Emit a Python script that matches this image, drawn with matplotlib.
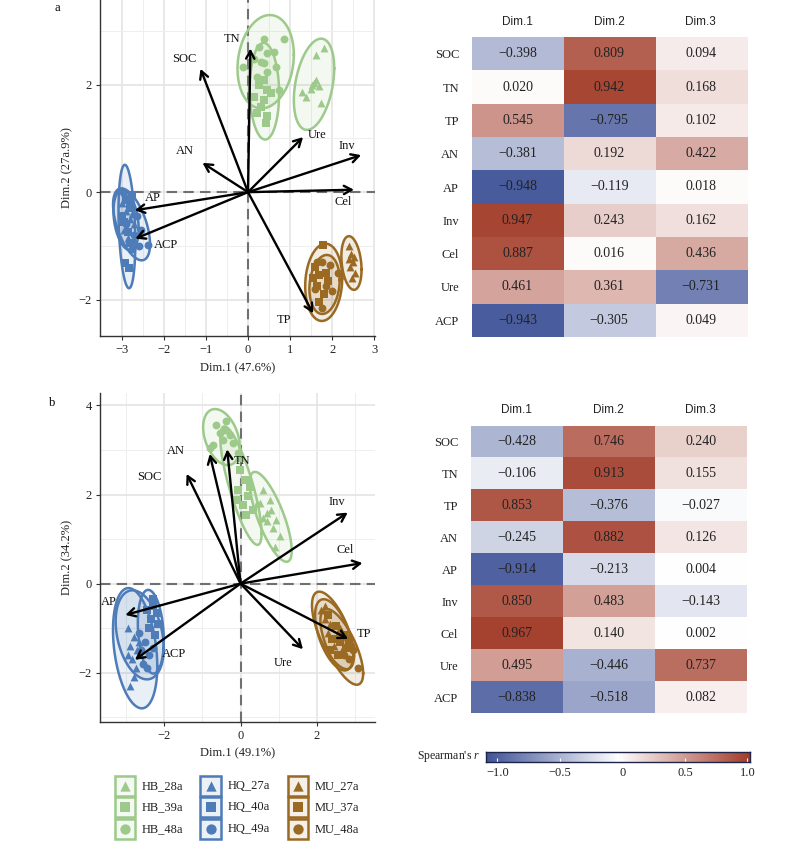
import numpy as np
import matplotlib
matplotlib.use('Agg')
import matplotlib.pyplot as plt
from matplotlib.colors import LinearSegmentedColormap

plt.rcParams['font.family'] = ['Liberation Serif', 'DejaVu Serif']
plt.rcParams['mathtext.fontset'] = 'custom'
plt.rcParams['mathtext.rm'] = 'Liberation Serif'
plt.rcParams['mathtext.it'] = 'Liberation Serif:italic'
plt.rcParams['axes.unicode_minus'] = True

# ---------------- data ----------------
variables = ['SOC', 'TN', 'TP', 'AN', 'AP', 'Inv', 'Cel', 'Ure', 'ACP']
dims = ['Dim.1', 'Dim.2', 'Dim.3']

corr_a = [[-0.398, 0.809, 0.094],
          [0.020, 0.942, 0.168],
          [0.545, -0.795, 0.102],
          [-0.381, 0.192, 0.422],
          [-0.948, -0.119, 0.018],
          [0.947, 0.243, 0.162],
          [0.887, 0.016, 0.436],
          [0.461, 0.361, -0.731],
          [-0.943, -0.305, 0.049]]

corr_b = [[-0.428, 0.746, 0.240],
          [-0.106, 0.913, 0.155],
          [0.853, -0.376, -0.027],
          [-0.245, 0.882, 0.126],
          [-0.914, -0.213, 0.004],
          [0.850, 0.483, -0.143],
          [0.967, 0.140, 0.002],
          [0.495, -0.446, 0.737],
          [-0.838, -0.518, 0.082]]

arrow_scale_a = 2.84
arrow_scale_b = 3.30

groups = ['HB_28a', 'HB_39a', 'HB_48a', 'HQ_27a', 'HQ_40a', 'HQ_49a',
          'MU_27a', 'MU_37a', 'MU_48a']

# sample scores (Dim.1, Dim.2)
pts_a = {
    'HB_28a': [(1.81, 2.68), (1.61, 2.55), (1.57, 2.03), (1.69, 1.97), (1.49, 1.93),
               (1.29, 1.87), (1.37, 1.78), (1.73, 1.66), (1.61, 2.09), (1.53, 2.00)],
    'HB_39a': [(0.26, 2.00), (0.46, 1.90), (0.38, 1.72), (0.30, 1.59), (0.46, 1.41),
               (0.42, 1.28), (0.22, 1.47), (0.38, 2.09), (0.54, 1.84), (0.14, 1.78)],
    'HB_48a': [(0.38, 2.86), (0.86, 2.86), (0.26, 2.71), (0.46, 2.59), (0.30, 2.43),
               (0.38, 2.40), (0.66, 2.34), (0.14, 2.49), (-0.13, 2.34), (0.22, 2.15),
               (0.46, 2.24), (0.74, 1.90), (0.62, 2.62)],
    'HQ_27a': [(-2.95, 0.00), (-2.85, -0.10), (-2.75, -0.25), (-2.90, -0.35), (-2.80, -0.50),
               (-2.70, -0.60), (-2.95, -0.70), (-2.85, -0.85), (-2.75, -0.40), (-3.00, -0.20)],
    'HQ_40a': [(-2.90, -0.15), (-2.80, -0.30), (-2.95, -0.55), (-2.85, -0.75), (-2.80, -0.95),
               (-2.92, -1.32), (-2.84, -1.41), (-2.75, -0.05), (-3.00, -0.45)],
    'HQ_49a': [(-3.00, 0.02), (-2.80, -0.20), (-2.65, -0.45), (-2.70, -0.80), (-2.55, -0.70),
               (-2.60, -1.00), (-2.37, -0.98), (-2.90, -0.60), (-2.75, -1.05)],
    'MU_27a': [(2.40, -1.00), (2.45, -1.15), (2.50, -1.30), (2.42, -1.40), (2.55, -1.50),
               (2.48, -1.60), (2.40, -1.25), (2.52, -1.20)],
    'MU_37a': [(1.79, -0.98), (1.60, -1.40), (1.70, -1.55), (1.85, -1.50), (1.65, -1.75),
               (1.80, -1.90), (1.70, -2.05), (1.90, -1.65), (1.55, -1.60)],
    'MU_48a': [(2.14, -1.51), (1.75, -1.30), (1.95, -1.35), (1.60, -1.80), (1.85, -1.75),
               (1.75, -2.15), (2.00, -1.85), (1.65, -1.30)],
}

pts_b = {
    'HB_28a': [(0.59, 2.10), (0.77, 1.88), (0.51, 1.81), (0.68, 1.58), (0.94, 1.43),
               (0.81, 1.66), (0.59, 1.47), (1.03, 1.06), (0.90, 0.83), (0.42, 1.81),
               (0.70, 1.40), (0.85, 1.25)],
    'HB_39a': [(-0.02, 2.55), (0.11, 2.33), (-0.06, 2.10), (0.20, 1.96), (0.07, 1.77),
               (0.33, 1.66), (-0.10, 1.88), (0.24, 2.18), (-0.02, 2.82), (0.15, 1.55)],
    'HB_48a': [(-0.63, 3.57), (-0.37, 3.66), (-0.54, 3.38), (-0.28, 3.34), (-0.72, 3.12),
               (-0.19, 3.15), (-0.45, 3.23), (-0.06, 2.93), (-0.80, 3.04), (-0.40, 3.45)],
    'HQ_27a': [(-2.95, -1.00), (-2.80, -1.20), (-2.90, -1.40), (-2.70, -1.50), (-2.85, -1.70),
               (-2.75, -1.90), (-2.95, -1.60), (-2.80, -2.10), (-2.90, -2.30), (-2.65, -1.30)],
    'HQ_40a': [(-2.30, -0.50), (-2.20, -0.65), (-2.35, -0.80), (-2.15, -0.90), (-2.40, -1.00),
               (-2.25, -1.15), (-2.30, -0.35), (-2.45, -0.60)],
    'HQ_49a': [(-2.50, -1.30), (-2.60, -1.50), (-2.40, -1.60), (-2.55, -1.80), (-2.30, -1.45),
               (-2.65, -1.10), (-2.45, -1.90)],
    'MU_27a': [(2.10, -0.60), (2.20, -0.80), (2.35, -0.90), (2.30, -1.10), (2.50, -1.20),
               (2.45, -1.40), (2.65, -1.50), (2.20, -0.50), (2.60, -1.00)],
    'MU_37a': [(2.30, -0.70), (2.50, -0.95), (2.40, -1.25), (2.60, -1.30), (2.75, -1.45),
               (2.55, -1.60), (2.70, -1.15), (2.35, -1.50)],
    'MU_48a': [(2.60, -1.10), (2.80, -1.30), (2.90, -1.40), (2.70, -1.60), (2.85, -1.70),
               (3.08, -1.90), (2.75, -1.20), (2.95, -1.50)],
}

# confidence ellipses: centre x, centre y, half-extent x, half-extent y, correlation
ell_a = {
    'HB_28a': (1.57, 2.01, 0.48, 0.85, 0.35),
    'HB_39a': (0.39, 1.88, 0.35, 0.90, -0.05),
    'HB_48a': (0.42, 2.43, 0.67, 0.87, 0.15),
    'HQ_27a': (-2.90, -0.52, 0.30, 0.56, -0.30),
    'HQ_40a': (-2.88, -0.64, 0.20, 1.15, -0.25),
    'HQ_49a': (-2.77, -0.60, 0.44, 0.67, -0.55),
    'MU_27a': (2.46, -1.32, 0.24, 0.50, -0.25),
    'MU_37a': (1.80, -1.68, 0.44, 0.72, 0.10),
    'MU_48a': (1.82, -1.72, 0.36, 0.55, 0.15),
}
ell_b = {
    'HB_28a': (0.79, 1.50, 0.55, 1.01, -0.75),
    'HB_39a': (0.01, 2.20, 0.54, 1.33, -0.80),
    'HB_48a': (-0.50, 3.29, 0.48, 0.63, -0.35),
    'HQ_27a': (-2.76, -1.45, 0.58, 1.35, -0.30),
    'HQ_40a': (-2.35, -1.08, 0.34, 0.94, -0.20),
    'HQ_49a': (-2.64, -1.15, 0.63, 1.00, -0.30),
    'MU_27a': (2.42, -1.05, 0.55, 0.87, -0.65),
    'MU_37a': (2.45, -1.15, 0.50, 0.80, -0.55),
    'MU_48a': (2.65, -1.42, 0.56, 0.85, -0.70),
}

# arrow label positions
lab_a = {'SOC': (-1.52, 2.49), 'TN': (-0.39, 2.86), 'TP': (0.86, -2.39), 'AN': (-1.50, 0.76),
         'AP': (-2.27, -0.11), 'Inv': (2.34, 0.86), 'Cel': (2.26, -0.19), 'Ure': (1.65, 1.07),
         'ACP': (-1.94, -0.98)}
lab_b = {'SOC': (-2.40, 2.40), 'TN': (0.03, 2.76), 'TP': (3.23, -1.13), 'AN': (-1.69, 2.97),
         'AP': (-3.46, -0.42), 'Inv': (2.53, 1.84), 'Cel': (2.73, 0.76), 'Ure': (1.12, -1.79),
         'ACP': (-1.74, -1.58)}

site_color = {'HB': '#9dca8b', 'HQ': '#4d7cb9', 'MU': '#9b6a22'}
age_marker = {'28a': '^', '39a': 's', '48a': 'o', '27a': '^', '40a': 's', '49a': 'o', '37a': 's'}

cmap = LinearSegmentedColormap.from_list('spear', ['#3f5398', '#ffffff', '#a33c29'])

# ---------------- figure ----------------
W, H = 800, 841
fig = plt.figure(figsize=(W / 100, H / 100), dpi=100)


def frect(l, t, r, b):
    return [l / W, 1 - b / H, (r - l) / W, (b - t) / H]


def ellipse_xy(cx, cy, hx, hy, rho, n=240):
    t = np.linspace(0, 2 * np.pi, n)
    x = cx + hx * np.cos(t)
    y = cy + hy * (rho * np.cos(t) + np.sqrt(1 - rho ** 2) * np.sin(t))
    return x, y


def minus(s):
    return s.replace('-', '\u2212')


def biplot(ax, pts, ells, corr, scale, labs, xlim, ylim, xmaj, xmin, ymaj, ymin, xlabel, ylabel):
    ax.set_xlim(*xlim)
    ax.set_ylim(*ylim)
    ax.set_xticks(xmaj)
    ax.set_xticklabels([minus(f"{v:g}") for v in xmaj])
    ax.set_yticks(ymaj)
    ax.set_yticklabels([minus(f"{v:g}") for v in ymaj])
    ax.set_xticks(xmin, minor=True)
    ax.set_yticks(ymin, minor=True)
    ax.grid(which='major', color='#e4e4e4', lw=1.2)
    ax.grid(which='minor', color='#eeeeee', lw=0.7)
    ax.tick_params(which='minor', length=0)
    ax.tick_params(which='major', length=3, color='#333333', labelsize=9, labelcolor='#222222', pad=3)
    ax.set_axisbelow(True)
    for s in ('top', 'right'):
        ax.spines[s].set_visible(False)
    for s in ('left', 'bottom'):
        ax.spines[s].set_color('#333333')
        ax.spines[s].set_linewidth(1.0)
    ax.axhline(0, color='#707070', lw=1.5, dashes=(5, 3), zorder=1)
    ax.axvline(0, color='#707070', lw=1.5, dashes=(5, 3), zorder=1)
    for g in groups:
        site, age = g.split('_')
        col = site_color[site]
        ex, ey = ellipse_xy(*ells[g])
        ax.fill(ex, ey, color=col, alpha=0.12, lw=0, zorder=2)
        ax.plot(ex, ey, color=col, lw=1.8, zorder=3)
        p = np.array(pts[g])
        ax.scatter(p[:, 0], p[:, 1], marker=age_marker[age], s=32, color=col, lw=0, zorder=4)
    for v, c in zip(variables, corr):
        ax.annotate('', xy=(scale * c[0], scale * c[1]), xytext=(0, 0),
                    arrowprops=dict(arrowstyle='->,head_length=0.55,head_width=0.3',
                                    color='black', lw=1.7, shrinkA=0, shrinkB=0), zorder=5)
        lx, ly = labs[v]
        ax.text(lx, ly, v, fontsize=9, ha='center', va='center', color='#111111', zorder=6)
    ax.set_xlabel(xlabel, fontsize=9, labelpad=4, color='#222222')
    ax.set_ylabel(ylabel, fontsize=9, labelpad=4, color='#222222')


ax_a = fig.add_axes(frect(100, 0, 375, 336))
biplot(ax_a, pts_a, ell_a, corr_a, arrow_scale_a, lab_a, (-3.52, 3.02), (-2.68, 3.58),
       [-3, -2, -1, 0, 1, 2, 3], [-2.5, -1.5, -0.5, 0.5, 1.5, 2.5],
       [-2, 0, 2], [-1, 1, 3], 'Dim.1 (47.6%)', 'Dim.2 (27a.9%)')

ax_b = fig.add_axes(frect(100, 393, 375, 721.7))
biplot(ax_b, pts_b, ell_b, corr_b, arrow_scale_b, lab_b, (-3.68, 3.52), (-3.1, 4.28),
       [-2, 0, 2], [-3, -1, 1, 3],
       [-2, 0, 2, 4], [-3, -1, 1, 3], 'Dim.1 (49.1%)', 'Dim.2 (34.2%)')

fig.text(57 / W, 1 - 8 / H, 'a', fontsize=9, ha='center', va='center')
fig.text(52 / W, 1 - 403 / H, 'b', fontsize=9, ha='center', va='center')


def heat(ax, corr):
    arr = np.array(corr)
    ax.imshow(arr, cmap=cmap, vmin=-1, vmax=1, aspect='auto', interpolation='nearest')
    for i in range(arr.shape[0]):
        for j in range(arr.shape[1]):
            ax.text(j, i, minus(f"{arr[i, j]:.3f}"), ha='center', va='center',
                    fontsize=10, color='#222222')
    ax.set_xticks(range(len(dims)))
    ax.set_xticklabels(dims, fontfamily=['Liberation Sans', 'DejaVu Sans'], fontsize=8.5, color='#222222')
    ax.xaxis.tick_top()
    ax.set_yticks(range(len(variables)))
    ax.set_yticklabels(variables, fontsize=9, color='#222222')
    ax.tick_params(axis='x', length=0, pad=7)
    ax.tick_params(axis='y', length=0, pad=9)
    for s in ax.spines.values():
        s.set_visible(False)


hm_a = fig.add_axes(frect(471.7, 37.3, 746.7, 336.7))
heat(hm_a, corr_a)
hm_b = fig.add_axes(frect(470.7, 426, 746.7, 713.3))
heat(hm_b, corr_b)

# colour bar
cb_ax = fig.add_axes(frect(486, 751.7, 750, 761.7))
grad = np.linspace(-1, 1, 256).reshape(1, -1)
cb_ax.imshow(grad, cmap=cmap, vmin=-1, vmax=1, aspect='auto', extent=(-1.09, 1.02, 0, 1))
cb_ax.set_xlim(-1.09, 1.02)
cb_ax.set_ylim(0, 1)
cb_ticks = [-1.0, -0.5, 0, 0.5, 1.0]
cb_ax.set_xticks(cb_ticks)
cb_ax.set_xticklabels(['\u22121.0', '\u22120.5', '0', '0.5', '1.0'])
cb_ax.set_yticks([])
cb_ax.tick_params(axis='x', direction='in', length=3, color='#ffffff', labelsize=9,
                  labelcolor='#222222', pad=4)
for s in cb_ax.spines.values():
    s.set_color('#1d2447')
    s.set_linewidth(1.0)
fig.text(480 / W, 1 - 757 / H, "Spearman's $r$", fontsize=8.5, ha='right', va='center', color='#222222')

# legend
lg = fig.add_axes([0, 0, 1, 1])
lg.set_xlim(0, W)
lg.set_ylim(H, 0)
lg.axis('off')
lg.patch.set_visible(False)
col_x = {'HB': 114, 'HQ': 199.5, 'MU': 287}
leg_rows = {'HB': ['HB_28a', 'HB_39a', 'HB_48a'],
            'HQ': ['HQ_27a', 'HQ_40a', 'HQ_49a'],
            'MU': ['MU_27a', 'MU_37a', 'MU_48a']}
key_w, key_h, key_top = 22, 21.5, 775
for site, names in leg_rows.items():
    col = site_color[site]
    x0 = col_x[site]
    for r, g in enumerate(names):
        y0 = key_top + r * key_h
        lg.add_patch(plt.Rectangle((x0, y0), key_w, key_h, facecolor=col, alpha=0.1, lw=0))
        lg.add_patch(plt.Rectangle((x0 + 0.9, y0 + 0.9), key_w - 1.8, key_h - 1.8,
                                   facecolor='none', edgecolor=col, lw=1.8))
        lg.scatter([x0 + key_w / 2], [y0 + key_h / 2], marker=age_marker[g.split('_')[1]],
                   s=55, color=col, lw=0)
        lg.text(x0 + key_w + 6, y0 + key_h / 2, g, fontsize=9, ha='left', va='center', color='#222222')

fig.savefig('out.png', dpi=100)
